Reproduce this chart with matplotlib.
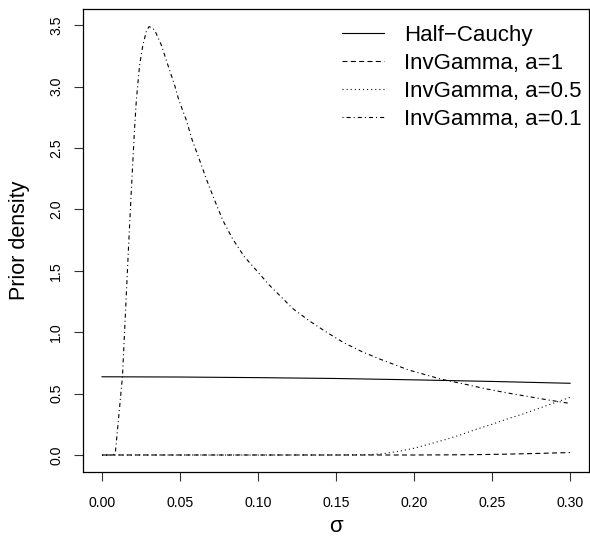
import numpy as np
import matplotlib
matplotlib.use("Agg")
import matplotlib.pyplot as plt
from matplotlib.transforms import Affine2D

plt.rcParams['font.family'] = ['Liberation Sans', 'DejaVu Sans']

# values
sigma_hc = [0.0, 0.05, 0.10, 0.15, 0.20, 0.25, 0.30]
dens_hc = [0.637, 0.635, 0.630, 0.623, 0.612, 0.599, 0.584]

sigma_a1 = [0.0, 0.20, 0.22, 0.24, 0.26, 0.28, 0.30]
dens_a1 = [0.0, 0.0, 0.001, 0.003, 0.007, 0.013, 0.020]

sigma_a05 = [0.0, 0.15, 0.17, 0.18, 0.19, 0.20, 0.21, 0.22, 0.23, 0.24,
             0.25, 0.26, 0.27, 0.28, 0.29, 0.30]
dens_a05 = [0.0, 0.0, 0.002, 0.01, 0.03, 0.055, 0.09, 0.125, 0.165, 0.21,
            0.25, 0.295, 0.335, 0.38, 0.425, 0.47]

sigma_a01 = [0.0, 0.0070, 0.0086, 0.0131, 0.0169, 0.0188, 0.0208, 0.0220,
             0.0241, 0.0262, 0.0285, 0.0301, 0.0320, 0.0337, 0.0380, 0.0422,
             0.0465, 0.0492, 0.0540, 0.0578, 0.0625, 0.0671, 0.0721, 0.0773,
             0.0837, 0.0912, 0.0997, 0.1072, 0.1168, 0.1220, 0.1327, 0.1434,
             0.1550, 0.1667, 0.1785, 0.1966, 0.2178, 0.2350, 0.2455, 0.2600,
             0.2860, 0.3000]
dens_a01 = [0.0, 0.0, 0.027, 0.638, 1.669, 2.158, 2.647, 2.891,
            3.176, 3.339, 3.455, 3.488, 3.480, 3.461, 3.339, 3.176,
            3.013, 2.891, 2.728, 2.565, 2.402, 2.239, 2.077, 1.914,
            1.760, 1.615, 1.493, 1.384, 1.262, 1.195, 1.094, 1.004,
            0.914, 0.841, 0.779, 0.692, 0.616, 0.570, 0.540, 0.505,
            0.448, 0.420]

labels = ["Half\u2212Cauchy", "InvGamma, a=1", "InvGamma, a=0.5", "InvGamma, a=0.1"]
xticks = [0.00, 0.05, 0.10, 0.15, 0.20, 0.25, 0.30]
yticks = [0.0, 0.5, 1.0, 1.5, 2.0, 2.5, 3.0, 3.5]

plt.rcParams['lines.scale_dashes'] = False

W, H = 590, 542
fig = plt.figure(figsize=(W / 100, H / 100), dpi=100)
ax = fig.add_axes([83.3 / W, 1 - 471.7 / H, 1 - 83.3 / W - 0.002, (471.7 - 9) / H])

lw = 0.8
ax.plot(sigma_hc, dens_hc, color='black', lw=lw, label=labels[0])
ax.plot(sigma_a1, dens_a1, color='black', lw=lw, linestyle=(0, (3.6, 2.4)), label=labels[1])
ax.plot(sigma_a05, dens_a05, color='black', lw=lw, linestyle=(0, (0.75, 2.2)), label=labels[2])
ax.plot(sigma_a01, dens_a01, color='black', lw=lw, linestyle=(0, (0.75, 2.2, 2.9, 2.2)), label=labels[3])

ax.set_xlim(-0.012, 0.312)
ax.set_ylim(-0.136, 3.632)
ax.set_xticks(xticks)
ax.set_xticklabels(["%.2f" % v for v in xticks])
ax.set_yticks(yticks)
ax.set_yticklabels(["%.1f" % v for v in yticks], rotation=90, va='center')

ax.tick_params(axis='both', direction='out', length=6.5, width=0.8, labelsize=10.2, color='#333333')
ax.tick_params(axis='x', pad=11)
ax.tick_params(axis='y', pad=8)
for s in ax.spines.values():
    s.set_linewidth(0.9)

ax.set_xlabel("\u03c3", fontsize=16, labelpad=4)
ax.set_ylabel("Prior density", fontsize=15.5, labelpad=14)

# legend anchored in figure pixels (top-right of the text block)
pix = Affine2D().scale(1.0 / W, 1.0 / H) + fig.transFigure
ax.legend(loc='upper right', bbox_to_anchor=(582, H - 25), bbox_transform=pix,
          frameon=False, fontsize=16, handlelength=1.9, handletextpad=0.9,
          labelspacing=0.31, borderaxespad=0, borderpad=0)

fig.savefig("out.png", dpi=100)
